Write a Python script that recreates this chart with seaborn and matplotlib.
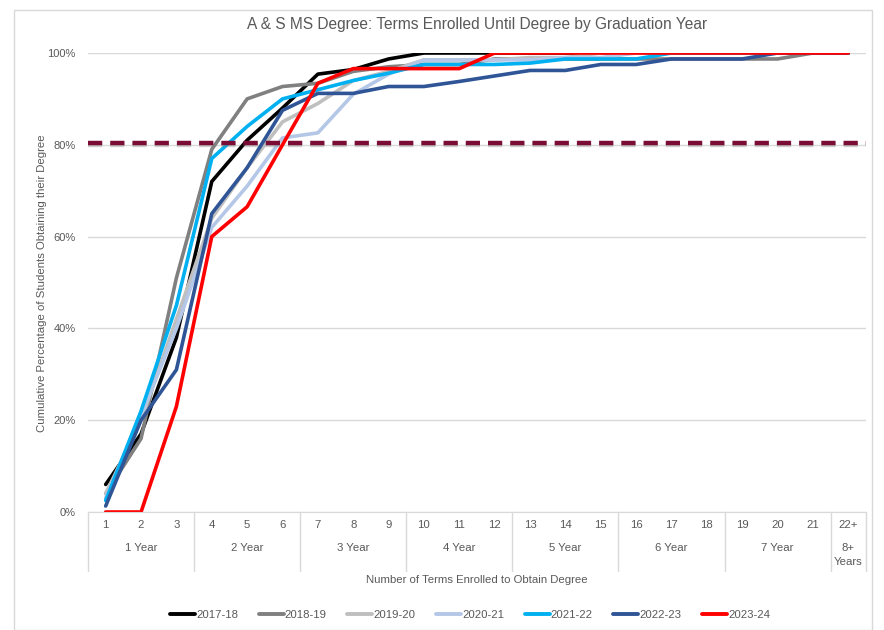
import pandas as pd
import matplotlib.pyplot as plt
import matplotlib.patheffects as pe
from matplotlib.lines import Line2D
from matplotlib.patches import Rectangle
import seaborn as sns

sns.set_style("white")
plt.rcParams['font.family'] = ['Liberation Sans', 'DejaVu Sans']

# term categories along the x axis
terms = [str(i) for i in range(1, 22)] + ['22+']
year_groups = ['1 Year', '2 Year', '3 Year', '4 Year', '5 Year', '6 Year', '7 Year', '8+\nYears']
group_sizes = [3, 3, 3, 3, 3, 3, 3, 1]

series_names = ['2017-18', '2018-19', '2019-20', '2020-21', '2021-22', '2022-23', '2023-24']

# cumulative % obtaining degree
v_2017_18 = [6, 17, 38, 72, 81, 88, 95.4, 96.4, 98.7, 100, 100, 100, 100, 100, 100, 100, 100, 100, 100, 100, 100, 100]
v_2018_19 = [4, 16, 51, 79, 90, 92.7, 93.4, 96, 97, 97.5, 97.5, 98.7, 98.7, 98.7, 98.7, 98.7, 98.7, 98.7, 98.7, 98.7, 100, 100]
v_2019_20 = [4, 20, 42, 64, 75, 85, 89, 94, 96, 98.5, 98.5, 98.5, 99, 99, 100, 100, 100, 100, 100, 100, 100, 100]
v_2020_21 = [3, 21, 40, 62, 71, 81.5, 82.6, 91, 95.4, 98.5, 98.5, 98.5, 98.5, 99, 99, 100, 100, 100, 100, 100, 100, 100]
v_2021_22 = [2.5, 22, 45, 77, 84, 90, 92, 94, 95.6, 97.5, 97.5, 97.5, 97.8, 98.7, 98.7, 98.7, 100, 100, 100, 100, 100, 100]
v_2022_23 = [1.3, 20, 31, 65, 75, 87.5, 91.2, 91.2, 92.7, 92.7, 93.8, 95, 96.2, 96.2, 97.5, 97.5, 98.7, 98.7, 98.7, 100, 100, 100]
v_2023_24 = [0, 0, 23, 60, 66.5, 80, 93.4, 96.6, 96.6, 96.6, 96.6, 100, 100, 100, 100, 100, 100, 100, 100, 100, 100, 100]

target = 80.5

colors = ['#000000', '#808080', '#BFBFBF', '#B4C7E7', '#00B0F0', '#2F5597', '#FF0000']

all_vals = [v_2017_18, v_2018_19, v_2019_20, v_2020_21, v_2021_22, v_2022_23, v_2023_24]
rows = []
for name, vals in zip(series_names, all_vals):
    for i, v in enumerate(vals):
        rows.append({'pos': i, 'term': terms[i], 'series': name, 'pct': v / 100})
df = pd.DataFrame(rows)

fig = plt.figure(figsize=(8.84, 6.30), dpi=100)
ax = fig.add_axes([88 / 884, 1 - 512 / 630, (866 - 88) / 884, (512 - 53) / 630])

sns.lineplot(data=df, x='pos', y='pct', hue='series', palette=dict(zip(series_names, colors)),
             linewidth=2.6, ax=ax, legend=False, sort=False)

# target line with a soft shadow
ax.axhline(target / 100, color='#7B0C35', linewidth=3.2, dashes=(3.2, 1.8), zorder=5,
           path_effects=[pe.SimpleLineShadow(offset=(0, -2), shadow_color='#808080', alpha=0.35),
                         pe.Normal()])

ax.set_xlim(-0.5, len(terms) - 0.5)
ax.set_ylim(0, 1)
ax.set_yticks([0, 0.2, 0.4, 0.6, 0.8, 1.0])
ax.set_yticklabels(['0%', '20%', '40%', '60%', '80%', '100%'], color='#595959', fontsize=8)
ax.yaxis.grid(True, color='#D9D9D9', linewidth=1)
ax.tick_params(axis='y', length=0, pad=9)
ax.set_xticks([])
for s in ['top', 'right', 'left']:
    ax.spines[s].set_visible(False)
ax.spines['bottom'].set_color('#D9D9D9')
ax.set_xlabel('')
ax.set_ylabel('')
fig.text(42 / 884, 1 - 283 / 630, 'Cumulative Percentage of Students Obtaining their Degree',
         rotation=90, ha='center', va='center', color='#595959', fontsize=8.2)

# multi-level category axis
trans = ax.get_xaxis_transform()
for i, t in enumerate(terms):
    ax.text(i, -0.028, t, transform=trans, ha='center', va='center', fontsize=8.2, color='#595959')
start = 0
sep_bottom = -0.128
ax.plot([-0.5, -0.5], [0, sep_bottom], transform=trans, color='#D9D9D9', lw=1, clip_on=False)
for name, size in zip(year_groups, group_sizes):
    mid = start + (size - 1) / 2
    ytxt = -0.078 if '\n' not in name else -0.094
    ax.text(mid, ytxt, name, transform=trans, ha='center', va='center', fontsize=8.2,
            color='#595959', linespacing=1.5)
    start += size
    ax.plot([start - 0.5, start - 0.5], [0, sep_bottom], transform=trans, color='#D9D9D9', lw=1, clip_on=False)

fig.text(477 / 884, 1 - 580 / 630, 'Number of Terms Enrolled to Obtain Degree', ha='center', va='center',
         fontsize=8.2, color='#595959')
fig.text(477 / 884, 1 - 24 / 630, 'A & S MS Degree: Terms Enrolled Until Degree by Graduation Year',
         ha='center', va='center', fontsize=11.2, color='#595959')

handles = [Line2D([0], [0], color=c, lw=2.8) for c in colors]
fig.legend(handles, series_names, loc='center', bbox_to_anchor=(470 / 884, 1 - 615 / 630), ncol=7,
           frameon=False, fontsize=8.2, handlelength=2.2, handletextpad=0.1, columnspacing=1.8,
           labelcolor='#595959')

fig.patches.append(Rectangle((14 / 884, 0), (872 - 14) / 884, 1 - 10 / 630, transform=fig.transFigure,
                             fill=False, edgecolor='#D9D9D9', lw=1))

fig.savefig('out.png', dpi=100)
